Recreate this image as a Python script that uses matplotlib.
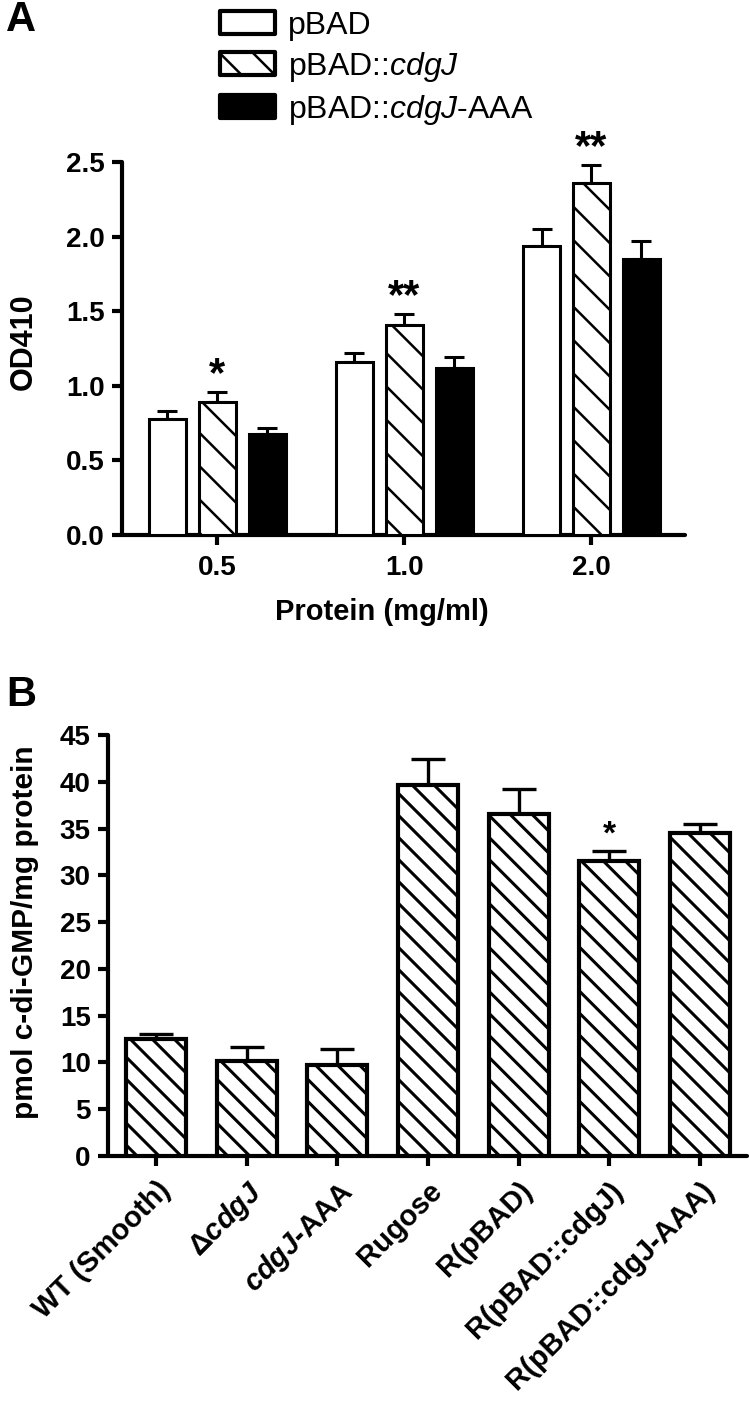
import numpy as np
import matplotlib
matplotlib.use('Agg')
import matplotlib.pyplot as plt
from matplotlib.lines import Line2D
from matplotlib.transforms import IdentityTransform

plt.rcParams['font.family'] = ['Liberation Sans', 'DejaVu Sans']
plt.rcParams['mathtext.fontset'] = 'custom'
plt.rcParams['mathtext.rm'] = 'Liberation Sans'
plt.rcParams['mathtext.it'] = 'Liberation Sans:italic'
plt.rcParams['mathtext.bf'] = 'Liberation Sans:italic:bold'
plt.rcParams['hatch.linewidth'] = 1.8

NARROW = ['Liberation Sans Narrow', 'Liberation Sans', 'DejaVu Sans']

# ---- panel A data ----
concentrations = ['0.5', '1.0', '2.0']
series_a = ['pBAD', 'pBAD::$\\mathit{cdgJ}$', 'pBAD::$\\mathit{cdgJ}$-AAA']
pbad_mean = [0.78, 1.16, 1.94]
pbad_err = [0.05, 0.06, 0.11]
cdgj_mean = [0.89, 1.41, 2.36]
cdgj_err = [0.07, 0.07, 0.12]
aaa_mean = [0.68, 1.12, 1.85]
aaa_err = [0.04, 0.07, 0.12]
stars_a = ['*', '**', '**']

# ---- panel B data ----
strains = ['WT (Smooth)', 'Δ$\\mathbf{cdgJ}$', '$\\mathbf{cdgJ}$-AAA', 'Rugose',
           'R(pBAD)', 'R(pBAD::cdgJ)', 'R(pBAD::cdgJ-AAA)']
cdigmp_mean = [12.5, 10.2, 9.7, 39.7, 36.6, 31.5, 34.5]
cdigmp_err = [0.5, 1.5, 1.7, 2.7, 2.6, 1.1, 1.0]
stars_b = ['', '', '', '', '', '*', '']

W, H = 750, 1420
fig = plt.figure(figsize=(W / 100, H / 100), dpi=100)


def style_axes(ax):
    for s in ['top', 'right']:
        ax.spines[s].set_visible(False)
    for s in ['left', 'bottom']:
        ax.spines[s].set_linewidth(3)
        ax.spines[s].set_capstyle('round')
    ax.tick_params(width=3, length=7.5, direction='out', pad=5)
    for lab in ax.get_yticklabels():
        lab.set_family(NARROW)
        lab.set_fontweight('bold')
        lab.set_fontsize(20)


def hatch_bar(ax, patch, spacing=22, lw=2.2):
    # "\" hatching in pixel space, segments clipped to the bar rectangle
    bb = patch.get_window_extent()
    x0, x1, y0, y1 = bb.x0, bb.x1, bb.y0, bb.y1
    for c in np.arange(x0 + y0 + spacing / 2, x1 + y1, spacing):
        xa = max(x0, c - y1)
        xb = min(x1, c - y0)
        if xb - xa < 1:
            continue
        ln = Line2D([xa, xb], [c - xa, c - xb], color='black', lw=lw,
                    solid_capstyle='butt', transform=IdentityTransform(), zorder=3.5)
        ln.set_clip_on(False)
        fig.add_artist(ln)


# ================= panel A =================
axA = fig.add_axes([122 / W, 1 - 535 / H, (685 - 122) / W, (535 - 162) / H])
x = np.arange(len(concentrations))
bw = 0.2
step = 0.267
styles = [dict(facecolor='white', hatch=None),
          dict(facecolor='white', hatch='\\'),
          dict(facecolor='black', hatch=None)]
means = [pbad_mean, cdgj_mean, aaa_mean]
errs = [pbad_err, cdgj_err, aaa_err]
handles = []
for i in range(3):
    xi = x + (i - 1) * step
    bars = axA.bar(xi, means[i], bw, edgecolor='black', linewidth=2.2, zorder=3,
                   label=series_a[i], **styles[i])
    handles.append(bars)
    axA.errorbar(xi, means[i], yerr=[np.zeros(3), errs[i]], fmt='none', ecolor='black',
                 elinewidth=2.2, capsize=7, capthick=2.2, zorder=2)

for xi, m, e, s in zip(x, cdgj_mean, cdgj_err, stars_a):
    axA.text(xi, m + e + 0.04, s, ha='center', va='baseline', fontsize=30,
             fontweight='bold', clip_on=False)

axA.set_xlim(-0.51, 2.5)
axA.set_ylim(0, 2.5)
axA.set_xticks(x)
axA.set_xticklabels(concentrations, fontsize=20, fontweight='bold', family=NARROW)
axA.set_yticks([0, 0.5, 1.0, 1.5, 2.0, 2.5])
axA.set_yticklabels(['0.0', '0.5', '1.0', '1.5', '2.0', '2.5'])
style_axes(axA)
axA.tick_params(axis='x', pad=7)
fig.text(24 / W, 1 - 342 / H, 'OD410', rotation=90, ha='center', va='center',
         fontsize=22, fontweight='bold')
fig.text(382 / W, 1 - 612 / H, 'Protein (mg/ml)', ha='center', va='center',
         fontsize=21, fontweight='bold')

leg = axA.legend(handles=handles, loc='upper left', bbox_to_anchor=(220 / W, 1 - 11 / H),
                 bbox_transform=fig.transFigure, frameon=False, fontsize=23,
                 handlelength=1.72, handleheight=0.72, handletextpad=0.4,
                 labelspacing=0.28, borderpad=0, borderaxespad=0)
for p in leg.get_patches():
    p.set_joinstyle('round')
    p.set_linewidth(3)

fig.text(6 / W, 1 - 20 / H, 'A', ha='left', va='center', fontsize=30,
         fontweight='bold', family=NARROW)

# ================= panel B =================
axB = fig.add_axes([108 / W, 1 - 1156 / H, (747 - 108) / W, (1156 - 735) / H])
xb = np.arange(len(strains))
axB.set_xlim(-0.53, 6.52)
axB.set_ylim(0, 45)
barsB = axB.bar(xb, cdigmp_mean, 0.66, facecolor='white', edgecolor='black',
                linewidth=3, zorder=3)
axB.errorbar(xb, cdigmp_mean, yerr=[np.zeros(len(xb)), cdigmp_err], fmt='none',
             ecolor='black', elinewidth=2.4, capsize=12, capthick=2.4, zorder=2)
for xi, m, e, s in zip(xb, cdigmp_mean, cdigmp_err, stars_b):
    if s:
        axB.text(xi, m + e + 0.8, s, ha='center', va='baseline', fontsize=24,
                 fontweight='bold')
axB.set_yticks(np.arange(0, 50, 5))
axB.set_xticks(xb)
axB.set_xticklabels(strains, rotation=45, ha='right', va='top', rotation_mode='anchor',
                    fontsize=21, fontweight='bold')
style_axes(axB)
axB.tick_params(axis='x', pad=7)
fig.text(25 / W, 1 - 932 / H, 'pmol c-di-GMP/mg protein', rotation=90, ha='center',
         va='center', fontsize=21.5, fontweight='bold')
fig.text(6 / W, 1 - 695 / H, 'B', ha='left', va='center', fontsize=30,
         fontweight='bold', family=NARROW)

for p in barsB.patches:
    hatch_bar(axB, p)

fig.savefig('out.png', dpi=100)
